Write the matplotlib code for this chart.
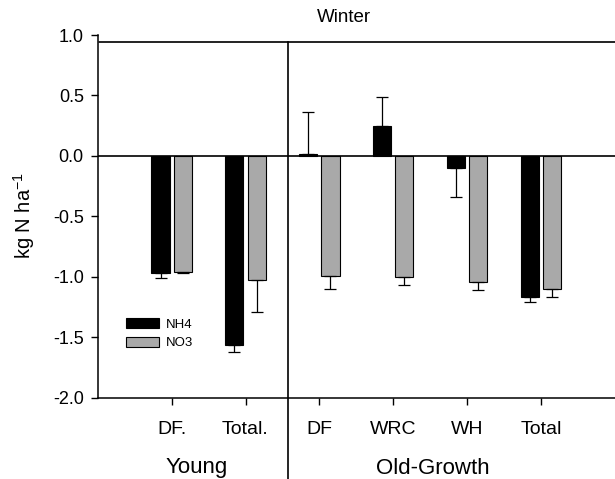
import matplotlib
matplotlib.use("Agg")
import matplotlib.pyplot as plt
from matplotlib.patches import Patch
from matplotlib.lines import Line2D
import numpy as np

plt.rcParams['font.family'] = ['Liberation Sans', 'DejaVu Sans']
plt.rcParams['axes.unicode_minus'] = False
plt.rcParams['mathtext.fontset'] = 'custom'
plt.rcParams['mathtext.rm'] = 'Liberation Sans'
plt.rcParams['mathtext.default'] = 'regular'

categories = ["DF.", "Total.", "DF", "WRC", "WH", "Total"]
nh4 = [-0.97, -1.56, 0.015, 0.25, -0.10, -1.17]
nh4_err = [0.04, 0.06, 0.345, 0.24, 0.24, 0.04]
no3 = [-0.96, -1.03, -0.99, -1.00, -1.04, -1.10]
no3_err = [0.01, 0.26, 0.11, 0.07, 0.07, 0.07]
groups = ["Young", "Old-Growth"]
yticks = [-2.0, -1.5, -1.0, -0.5, 0.0, 0.5, 1.0]

W, H = 615, 479
fig = plt.figure(figsize=(W/100, H/100), dpi=100)
ax = fig.add_axes([97.7/W, 1-397.7/H, 1-97.7/W, (397.7-35)/H])

x = np.arange(len(categories))
off = 0.15
bw = 0.245

def one_sided(vals, errs):
    lo = [e if v < 0 else 0 for v, e in zip(vals, errs)]
    hi = [e if v >= 0 else 0 for v, e in zip(vals, errs)]
    return [lo, hi]

ax.bar(x - off, nh4, bw, color='black', edgecolor='black', linewidth=0.8, zorder=2)
ax.bar(x + off, no3, bw, color='#a9a9a9', edgecolor='black', linewidth=0.8, zorder=2)
ax.errorbar(x - off, nh4, yerr=one_sided(nh4, nh4_err), fmt='none', ecolor='black',
            elinewidth=0.9, capsize=4, capthick=0.9, zorder=3)
ax.errorbar(x + off, no3, yerr=one_sided(no3, no3_err), fmt='none', ecolor='black',
            elinewidth=0.9, capsize=4, capthick=0.9, zorder=3)

ax.set_xlim(-1, 6)
ax.set_ylim(-2.0, 1.0)
ax.set_yticks(yticks)
ax.set_yticklabels([f"{v:.1f}" for v in yticks])
ax.set_xticks(x)
ax.set_xticklabels(categories)
ax.tick_params(axis='y', direction='out', length=5, width=1, pad=5, labelsize=13)
ax.tick_params(axis='x', direction='out', length=5, width=1, pad=12, labelsize=14)

for s in ['right', 'top']:
    ax.spines[s].set_visible(False)
for s in ['left', 'bottom']:
    ax.spines[s].set_linewidth(1.1)

ax.axhline(0, color='black', lw=1.2, zorder=4)
ax.axhline(0.945, color='#222222', lw=1.4, zorder=4)

div_x = 1.57
ytop = (0.945 + 2.0) / 3.0
ybot = -(H - 397.7) / (397.7 - 35)
ax.add_line(Line2D([div_x, div_x], [ybot, ytop], color='black', lw=1.2,
                   transform=ax.get_xaxis_transform(), clip_on=False, zorder=5))

ax.set_ylabel("kg N ha$^{-1}$", fontsize=14.5)
ax.yaxis.set_label_coords((37 - 97.7) / (W - 97.7), (397.7 - 215) / (397.7 - 35))

fig.text(196.5 / W, 1 - 468 / H, groups[0], ha='center', va='center', fontsize=16)
fig.text(432.5 / W, 1 - 468 / H, groups[1], ha='center', va='center', fontsize=16)
fig.text(344 / W, 1 - 17 / H, "Winter", ha='center', va='center', fontsize=13.5)

handles = [Patch(facecolor='black', edgecolor='black', linewidth=0.8),
           Patch(facecolor='#a9a9a9', edgecolor='black', linewidth=0.8)]
leg = fig.legend(handles, ["NH4", "NO3"], loc='upper left',
                 bbox_to_anchor=(126 / W, 1 - 318 / H), frameon=False,
                 fontsize=9.5, handlelength=2.5, handleheight=0.8,
                 handletextpad=0.5, labelspacing=0.45, borderpad=0, borderaxespad=0)

fig.savefig("out.png", dpi=100)
